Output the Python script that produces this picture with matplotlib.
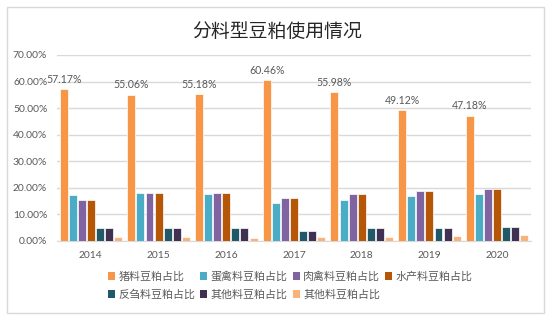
import matplotlib
matplotlib.use("Agg")
import matplotlib.pyplot as plt
import numpy as np
from matplotlib.patches import Rectangle, Patch

years = ["2014", "2015", "2016", "2017", "2018", "2019", "2020"]
series_names = ["猪料豆粕占比", "蛋禽料豆粕占比", "肉禽料豆粕占比", "水产料豆粕占比",
                "反刍料豆粕占比", "其他料豆粕占比", "其他料豆粕占比"]
pig = [57.17, 55.06, 55.18, 60.46, 55.98, 49.12, 47.18]
egg = [17.5, 18.0, 17.6, 14.4, 15.6, 17.1, 17.6]
meat = [15.6, 17.9, 18.0, 16.0, 17.6, 18.9, 19.5]
aqua = [15.6, 17.9, 18.0, 16.0, 17.6, 18.9, 19.5]
rumi = [4.75, 4.75, 4.75, 3.9, 4.75, 4.9, 5.1]
other = [4.75, 4.75, 4.75, 3.9, 4.75, 4.9, 5.1]
other2 = [1.6, 1.4, 1.25, 1.4, 1.5, 1.9, 2.3]
yticks = [0, 10, 20, 30, 40, 50, 60, 70]

colors = ["#F79646", "#4BACC6", "#8064A2", "#B65708", "#215968", "#403152", "#F9B27A"]
series = [pig, egg, meat, aqua, rumi, other, other2]

num_font = "Lato"
cjk = ["Noto Sans CJK SC", "DejaVu Sans"]
grey = "#595959"

W, H = 556, 326
fig = plt.figure(figsize=(W / 100, H / 100), dpi=100)
fig.patch.set_facecolor("white")

# chart frame
fig.add_artist(Rectangle((7 / W, 1 - 313 / H), (544 - 7) / W, (313 - 7) / H,
                         transform=fig.transFigure, fill=False,
                         edgecolor="#D9D9D9", linewidth=1))

ax = fig.add_axes([57 / W, 1 - 241 / H, (531 - 57) / W, (241 - 55) / H])
x = np.arange(len(years))
pitch = 0.134
bw = 0.118
for i, (vals, c) in enumerate(zip(series, colors)):
    ax.bar(x + (i - 3) * pitch, vals, width=bw, color=c, edgecolor="white",
           linewidth=0.5, zorder=3)

for xi, v in zip(x, pig):
    ax.text(xi - 3 * pitch, v + 1.6, f"{v:.2f}%", ha="center", va="bottom",
            fontsize=7.6, color=grey, family=num_font, zorder=4)

ax.set_xlim(-0.5, len(years) - 0.5)
ax.set_ylim(0, 70)
ax.set_yticks(yticks)
ax.set_yticklabels([f"{t:.2f}%" for t in yticks], family=num_font, fontsize=7.4, color=grey)
ax.set_xticks(x)
ax.set_xticklabels(years, family=num_font, fontsize=7.4, color=grey)
ax.tick_params(length=0, pad=7)
ax.tick_params(axis="y", pad=7)
ax.grid(axis="y", color="#D9D9D9", linewidth=1, zorder=0)
for s in ["top", "right", "left"]:
    ax.spines[s].set_visible(False)
ax.spines["bottom"].set_color("#D9D9D9")
ax.set_axisbelow(True)

fig.text(277 / W, 1 - 31 / H, "分料型豆粕使用情况", ha="center", va="center",
         fontsize=13.6, family=cjk, color="#262626")

handles = [Patch(facecolor=c, edgecolor="none") for c in colors]
order = [0, 4, 1, 5, 2, 6, 3]
leg = fig.legend([handles[i] for i in order], [series_names[i] for i in order],
                 ncol=4, loc="upper left",
                 bbox_to_anchor=(108 / W, 1 - 271 / H), frameon=False,
                 prop={"family": cjk, "size": 7.9},
                 handlelength=0.65, handleheight=0.65, handletextpad=0.3,
                 columnspacing=0.45, labelspacing=0.72, borderpad=0, borderaxespad=0)
for t in leg.get_texts():
    t.set_color(grey)

fig.savefig("out.png", dpi=100, facecolor="white")
